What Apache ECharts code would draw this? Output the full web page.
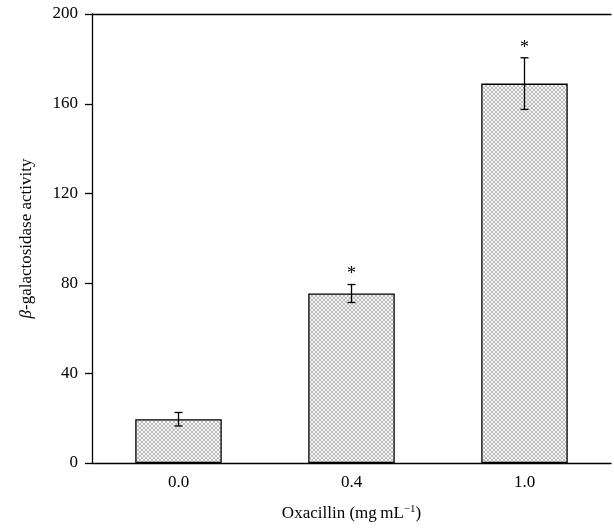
<!DOCTYPE html>
<html><head><meta charset="utf-8">
<script src="https://cdn.jsdelivr.net/npm/echarts@6/dist/echarts.min.js"></script>
<style>html,body{margin:0;padding:0;background:#fff}#c{width:614px;height:531px}</style>
</head><body><div id="c"></div>
<script>
const categories = ['0.0', '0.4', '1.0'];
const activity = [19.5, 75.5, 169];
const errors = [3, 4, 11.5];
const significant = [false, true, true];
const yTicks = [0, 40, 80, 120, 160, 200];

// crosshatch pattern
const pc = document.createElement('canvas');
pc.width = 4; pc.height = 4;
const px = pc.getContext('2d');
px.fillStyle = '#f4f4f4'; px.fillRect(0,0,4,4);
px.fillStyle = '#bdbdbd';
[[0,0],[1,1],[2,2],[3,3],[3,0],[2,1],[1,2],[0,3]].forEach(p => px.fillRect(p[0], p[1], 1, 1));

const chart = echarts.init(document.getElementById('c'));
const font = '"Liberation Serif", "DejaVu Serif", serif';
chart.setOption({
  animation: false,
  grid: { left: 92, top: 14, right: 3, bottom: 68 },
  xAxis: [{
    type: 'category', data: categories,
    axisLine: { lineStyle: { color: '#000', width: 1.3 } },
    axisTick: { show: false },
    axisLabel: { color: '#000', fontFamily: font, fontSize: 17, margin: 11 },
    name: '{a|Oxacillin (mg\u2009mL}{s|\u22121}{a|)}',
    nameLocation: 'middle', nameGap: 41,
    nameTextStyle: { rich: {
      a: { fontFamily: font, fontSize: 17, color: '#000' },
      s: { fontFamily: font, fontSize: 11, color: '#000', verticalAlign: 'top', padding: [0,0,9,0] }
    } }
  }, {
    type: 'category', data: categories, position: 'top',
    axisLine: { lineStyle: { color: '#000', width: 1.3 } },
    axisTick: { show: false }, axisLabel: { show: false }
  }],
  yAxis: {
    type: 'value', min: yTicks[0], max: yTicks[yTicks.length-1], interval: 40,
    axisLine: { show: true, lineStyle: { color: '#000', width: 1.3 } },
    axisTick: { show: true, length: 7, lineStyle: { color: '#000', width: 1.3 } },
    splitLine: { show: false },
    axisLabel: { color: '#000', fontFamily: font, fontSize: 17, margin: 14 },
    name: '{i|\u03b2}{a|-galactosidase activity}',
    nameLocation: 'middle', nameGap: 57, nameRotate: 90,
    nameTextStyle: { rich: {
      i: { fontFamily: font, fontSize: 17, color: '#000', fontStyle: 'italic' },
      a: { fontFamily: font, fontSize: 17, color: '#000' }
    } }
  },
  series: [{
    type: 'bar', data: activity, barWidth: '50%',
    itemStyle: { color: { image: pc, repeat: 'repeat' }, borderColor: '#000', borderWidth: 1.3 }
  }, {
    type: 'custom',
    data: activity.map((v, i) => [i, v, errors[i], significant[i] ? 1 : 0]),
    renderItem: function (params, api) {
      const i = api.value(0), v = api.value(1), e = api.value(2), s = api.value(3);
      const top = api.coord([i, v + e]);
      const bot = api.coord([i, v - e]);
      const hw = 4;
      const st = { stroke: '#000', lineWidth: 1.3 };
      const children = [
        { type: 'line', shape: { x1: top[0], y1: top[1], x2: bot[0], y2: bot[1] }, style: st },
        { type: 'line', shape: { x1: top[0]-hw, y1: top[1], x2: top[0]+hw, y2: top[1] }, style: st },
        { type: 'line', shape: { x1: bot[0]-hw, y1: bot[1], x2: bot[0]+hw, y2: bot[1] }, style: st }
      ];
      if (s) children.push({ type: 'text', style: {
        text: '*', x: top[0], y: top[1] - 1, align: 'center', verticalAlign: 'bottom',
        font: '18px ' + font, fill: '#000' } });
      return { type: 'group', children };
    },
    z: 5
  }]
});
</script></body></html>
